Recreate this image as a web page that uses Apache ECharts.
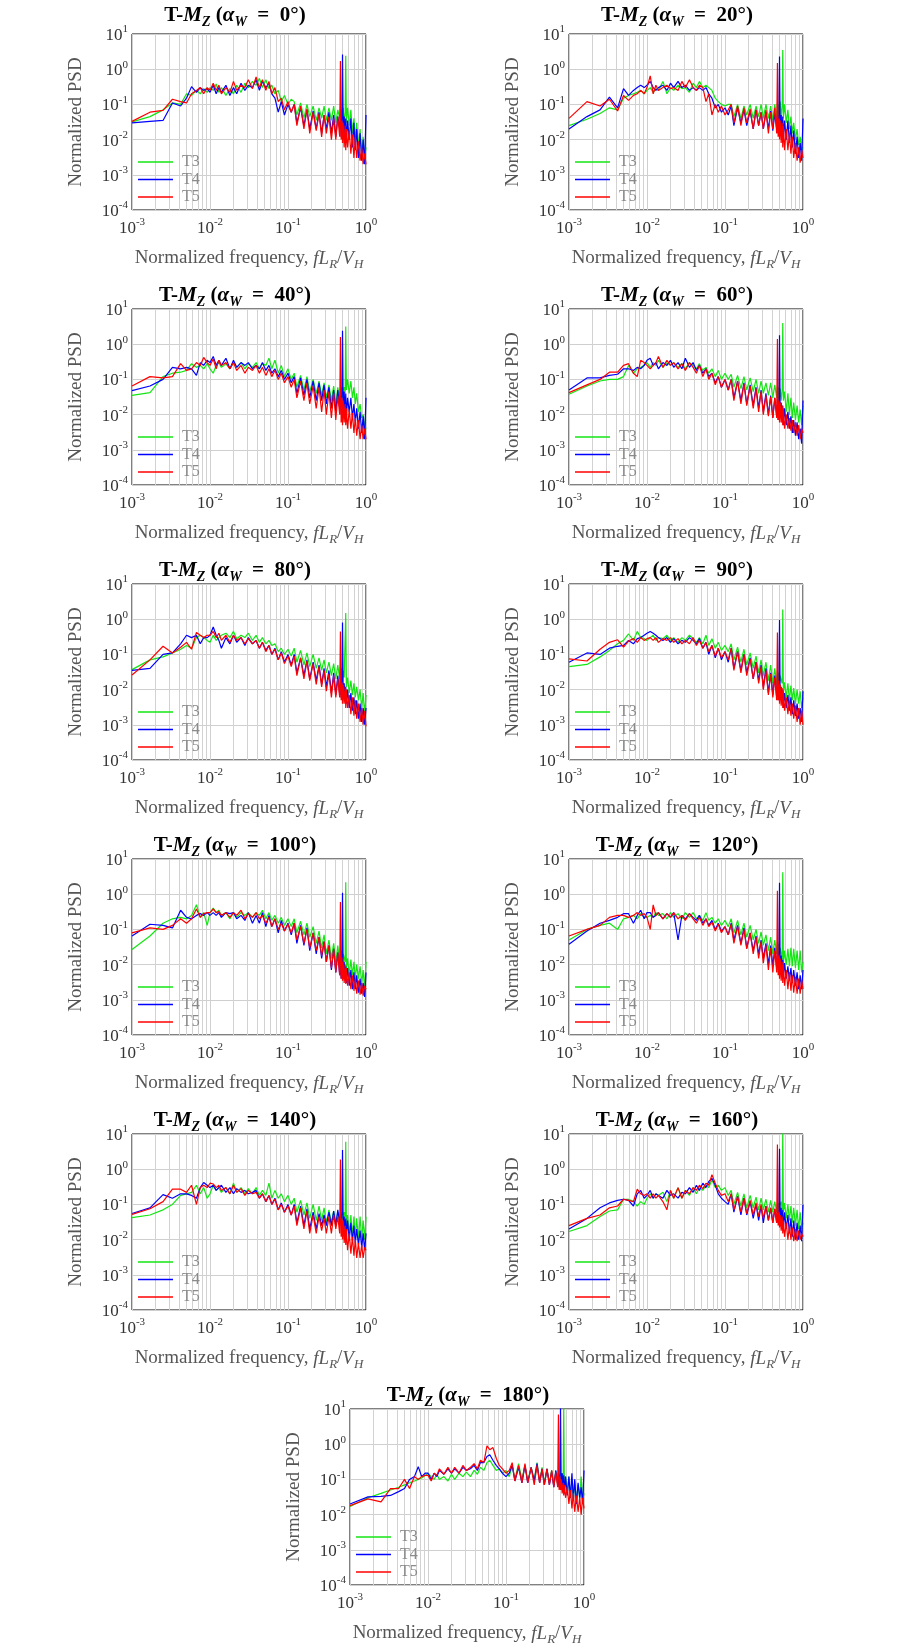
<!DOCTYPE html>
<html><head><meta charset="utf-8">
<script src="https://cdn.jsdelivr.net/npm/echarts@6/dist/echarts.min.js"></script>
<style>html,body{margin:0;padding:0;background:#fff}#c{width:900px;height:1649px}</style>
</head><body><div id="c"></div>
<script>
// ---------------- data ----------------
const FREQ = [0.001,0.0017,0.0025,0.0033,0.0042,0.005,0.0058,0.0067,0.0075,0.0083,0.0092,0.01,
  0.011,0.012,0.013,0.014,0.016,0.018,0.02,0.022,0.025,0.028,0.031,0.035,
  0.039,0.043,0.047,0.052,0.057,0.062,0.068,0.075,0.082,0.09,0.1,0.11,
  0.12,0.13,0.145,0.16,0.175,0.19,0.21,0.23,0.25,0.27,0.29,0.31,
  0.335,0.36,0.385,0.41,0.435,0.46,0.47,0.48,0.49,0.5,0.51,0.525,0.54,0.55,0.56,0.58,
  0.61,0.64,0.67,0.7,0.73,0.76,0.8,0.84,0.88,0.92,0.96,1.0];
const ANGLES = [0,20,40,60,80,90,100,120,140,160,180];
const SERIES_NAMES = ['T3','T4','T5'];
const X_MINOR_GRID = [0.002,0.003,0.004,0.005,0.006,0.007,0.008,0.009,0.02,0.03,0.04,0.05,0.06,0.07,0.08,0.09,0.2,0.3,0.4,0.5,0.6,0.7,0.8,0.9];

const T3_0 = [.032,.045,.07,.11,.1,.2,.18,.25,.2,.28,.22,.3, .25,.38,.22,.3,.18,.28,.2,.35,.22,.4,.3,.45, .35,.55,.3,.5,.28,.35,.2,.25,.12,.18,.1,.14, .12,.05,.11,.04,.1,.045,.09,.035,.08,.04,.09,.035, .08,.035,.09,.03,.07,.04,.085,.03,.07,.04,.08,.03,.06,2.4,.03,.08, .025,.07,.015,.04,.01,.03,.006,.02,.004,.012,.003,.006];
const T4_0 = [.03,.033,.035,.11,.09,.15,.32,.22,.3,.25,.28,.22, .35,.2,.3,.22,.35,.18,.3,.2,.4,.25,.35,.3, .5,.25,.45,.3,.4,.2,.15,.06,.12,.05,.1,.06, .1,.03,.08,.025,.07,.02,.065,.02,.06,.015,.05,.02, .06,.015,.05,.012,.045,.02,.05,.012,.04,2.6,.015,.045,.01,.04,.008,.035, .01,.04,.006,.03,.005,.02,.003,.015,.0025,.01,.002,.05];
const T5_0 = [.033,.06,.068,.14,.12,.11,.2,.25,.3,.2,.3,.25, .4,.25,.35,.2,.3,.22,.45,.25,.35,.3,.5,.28, .6,.3,.5,.25,.45,.2,.3,.12,.15,.07,.12,.06, .1,.025,.09,.02,.075,.015,.06,.018,.055,.012,.05,.015, .045,.01,.04,.01,.045,.012,1.7,.01,.035,.008,.03,.006,.025,.005,.02,.006, .018,.004,.014,.003,.012,.003,.009,.0025,.006,.002,.004,.002];

const T3_20 = [.025,.038,.055,.08,.07,.15,.18,.2,.22,.25,.2,.25, .3,.22,.28,.25,.45,.2,.3,.25,.35,.28,.3,.22, .4,.3,.45,.3,.35,.3,.25,.15,.12,.1,.09,.1, .1,.045,.1,.04,.09,.05,.1,.04,.09,.045,.1,.04, .1,.04,.09,.035,.1,.04,.11,.035,.1,.04,.12,.04,.09,3.5,.04,.1, .03,.07,.02,.045,.015,.03,.01,.02,.007,.012,.005,.006];
const T4_20 = [.02,.045,.07,.16,.08,.28,.18,.25,.3,.35,.3,.35, .45,.3,.25,.3,.35,.25,.4,.3,.45,.3,.35,.25, .3,.25,.3,.25,.3,.2,.15,.08,.1,.06,.08,.05, .09,.025,.08,.03,.07,.025,.065,.02,.07,.025,.06,.02, .06,.02,.065,.018,.055,.02,.05,.015,.05,2.3,.015,.05,.012,.045,.01,.035, .01,.035,.008,.025,.006,.018,.004,.012,.003,.008,.0025,.04];
const T5_20 = [.04,.12,.09,.14,.065,.18,.13,.18,.2,.25,.2,.3, .65,.2,.35,.25,.3,.35,.28,.3,.25,.45,.3,.5, .3,.25,.35,.3,.12,.2,.05,.1,.06,.09,.05,.07, .1,.03,.09,.025,.08,.03,.075,.02,.07,.025,.06,.02, .07,.015,.06,.02,.08,.015,1.5,.012,.04,.01,.035,.008,.03,.006,.025,.005, .02,.005,.015,.004,.012,.003,.008,.0025,.006,.0022,.005,.003];

const T3_40 = [.035,.042,.12,.15,.16,.18,.28,.22,.25,.2,.28,.2, .15,.25,.3,.22,.28,.2,.3,.22,.3,.2,.28,.22, .3,.2,.28,.25,.4,.2,.35,.15,.25,.12,.2,.1, .15,.06,.13,.05,.12,.045,.1,.04,.09,.035,.08,.03, .07,.025,.065,.02,.06,.025,.055,.02,.06,.03,.05,.06,.04,3.2,.05,.1, .04,.09,.03,.06,.02,.04,.012,.02,.008,.01,.005,.004];
const T4_40 = [.048,.065,.1,.22,.2,.22,.2,.13,.3,.25,.35,.3, .45,.25,.35,.25,.4,.2,.35,.22,.3,.25,.3,.2, .25,.2,.3,.18,.25,.15,.2,.12,.18,.1,.15,.08, .12,.04,.11,.035,.1,.03,.09,.025,.08,.025,.07,.02, .06,.015,.05,.012,.05,.015,.045,.01,.04,2.4,.012,.045,.01,.04,.008,.03, .012,.03,.008,.02,.006,.015,.004,.012,.003,.009,.002,.03];
const T5_40 = [.065,.12,.11,.12,.28,.18,.2,.3,.25,.42,.3,.25, .38,.2,.35,.25,.3,.2,.3,.18,.25,.15,.22,.18, .25,.15,.22,.13,.2,.12,.18,.1,.15,.08,.12,.06, .1,.03,.09,.025,.08,.02,.065,.015,.06,.012,.05,.01, .045,.008,.04,.007,.035,.01,1.6,.006,.03,.005,.025,.006,.02,.005,.015,.004, .014,.004,.011,.003,.008,.0025,.007,.002,.005,.002,.004,.002];

const T3_60 = [.038,.065,.09,.1,.1,.12,.25,.15,.2,.22,.25,.3, .22,.3,.25,.35,.22,.3,.25,.3,.22,.28,.2,.3, .25,.2,.28,.18,.22,.15,.2,.12,.18,.1,.15,.1, .14,.06,.13,.055,.12,.05,.11,.045,.1,.04,.09,.04, .08,.035,.08,.03,.07,.03,.065,.025,.06,.03,.055,.025,.05,4,.025,.045, .012,.04,.01,.03,.008,.022,.007,.018,.006,.014,.005,.018];
const T4_60 = [.05,.11,.11,.13,.14,.2,.2,.18,.22,.2,.25,.35, .4,.25,.3,.2,.3,.25,.35,.22,.3,.2,.4,.22, .3,.18,.25,.15,.2,.12,.15,.08,.12,.06,.1,.05, .1,.03,.09,.025,.08,.02,.07,.018,.06,.015,.05,.012, .04,.01,.035,.008,.03,.009,.028,.007,.025,1.8,.008,.022,.006,.018,.005,.015, .005,.012,.004,.009,.003,.007,.0025,.006,.002,.004,.0015,.025];
const T5_60 = [.042,.07,.1,.16,.16,.25,.28,.15,.12,.35,.3,.25, .2,.25,.3,.45,.22,.35,.25,.3,.2,.28,.18,.3, .22,.15,.25,.12,.2,.1,.15,.07,.12,.06,.1,.05, .1,.025,.09,.02,.075,.018,.065,.015,.055,.012,.045,.01, .035,.009,.032,.008,.03,.008,1.4,.007,.025,.006,.022,.006,.018,.005,.015,.004, .01,.004,.008,.0035,.007,.003,.006,.0025,.005,.002,.004,.003];

const T3_80 = [.037,.07,.085,.11,.14,.18,.15,.3,.35,.3,.25,.22, .35,.25,.3,.35,.4,.3,.45,.28,.35,.3,.4,.25, .35,.22,.3,.2,.25,.18,.2,.12,.15,.1,.14,.09, .15,.06,.13,.05,.11,.045,.1,.04,.08,.035,.07,.03, .06,.025,.055,.02,.05,.02,.045,.018,.04,.02,.035,.022,.025,1.5,.012,.022, .008,.018,.007,.015,.006,.012,.005,.01,.003,.008,.002,.007];
const T4_80 = [.035,.04,.1,.11,.2,.35,.3,.35,.2,.3,.3,.35, .6,.35,.25,.15,.3,.2,.35,.22,.3,.18,.3,.2, .25,.15,.22,.13,.18,.1,.15,.07,.12,.06,.1,.05, .1,.03,.08,.025,.07,.02,.06,.018,.05,.014,.04,.012, .035,.008,.03,.007,.025,.007,.022,.006,.018,.8,.006,.015,.005,.012,.004,.01, .003,.008,.0025,.006,.002,.005,.0015,.004,.0012,.003,.001,.003];
const T5_80 = [.026,.07,.17,.11,.16,.22,.14,.42,.35,.3,.35,.35, .45,.3,.4,.25,.35,.22,.35,.25,.3,.2,.28,.2, .25,.15,.22,.12,.18,.1,.14,.07,.11,.055,.09,.045, .09,.025,.08,.02,.065,.018,.055,.014,.045,.012,.035,.009, .028,.006,.025,.006,.02,.006,.45,.005,.016,.004,.014,.004,.012,.003,.01,.003, .007,.002,.006,.0018,.005,.0015,.004,.0012,.003,.001,.0025,.0009];

const T3_90 = [.045,.052,.085,.13,.2,.25,.38,.25,.45,.3,.28,.25, .3,.35,.25,.3,.28,.35,.25,.3,.22,.3,.25,.35, .28,.22,.3,.2,.35,.18,.28,.15,.22,.13,.18,.12, .2,.07,.16,.06,.14,.05,.11,.04,.09,.03,.07,.025, .06,.018,.05,.015,.04,.014,.035,.012,.03,.015,.025,.018,.015,1.9,.008,.016, .006,.015,.005,.013,.005,.011,.004,.01,.004,.009,.003,.006];
const T4_90 = [.06,.11,.1,.15,.17,.18,.25,.2,.28,.3,.35,.4, .45,.4,.35,.3,.25,.3,.22,.28,.2,.25,.22,.3, .25,.2,.28,.15,.22,.1,.18,.08,.15,.07,.12,.06, .15,.04,.12,.035,.1,.03,.08,.02,.06,.018,.05,.012, .04,.008,.03,.007,.025,.006,.02,.005,.016,.95,.005,.012,.004,.01,.003,.008, .003,.007,.0025,.006,.002,.005,.0018,.004,.0015,.003,.0012,.009];
const T5_90 = [.075,.065,.14,.22,.26,.16,.24,.28,.22,.3,.25,.28, .3,.25,.3,.22,.28,.25,.3,.22,.28,.2,.25,.2, .3,.18,.25,.15,.22,.12,.18,.09,.15,.08,.12,.07, .15,.035,.12,.03,.1,.025,.075,.02,.06,.015,.045,.01, .035,.007,.028,.006,.022,.005,.42,.005,.018,.004,.014,.0035,.011,.003,.009,.0025, .006,.002,.005,.0018,.004,.0015,.0035,.0012,.003,.001,.0025,.001];

const T3_100 = [.027,.065,.15,.2,.22,.2,.25,.5,.22,.3,.13,.3, .4,.3,.35,.25,.3,.2,.3,.22,.3,.25,.3,.22, .3,.25,.35,.2,.3,.18,.25,.15,.22,.13,.2,.12, .2,.08,.17,.07,.15,.06,.12,.04,.09,.03,.07,.02, .05,.015,.04,.012,.035,.011,.03,.01,.025,.012,.02,.015,.012,2.2,.007,.015, .005,.014,.005,.012,.004,.01,.004,.009,.003,.007,.002,.012];
const T4_100 = [.065,.14,.13,.11,.35,.22,.2,.25,.28,.25,.3,.25, .3,.25,.3,.22,.3,.28,.3,.2,.25,.18,.3,.15, .25,.15,.3,.12,.25,.12,.2,.08,.18,.09,.15,.07, .15,.04,.13,.035,.11,.025,.08,.02,.06,.015,.045,.012, .035,.007,.028,.006,.022,.005,.018,.004,.014,1.1,.004,.012,.0035,.009,.003,.008, .0025,.007,.002,.006,.002,.005,.0016,.004,.0015,.003,.0012,.006];
const T5_100 = [.08,.11,.1,.13,.2,.15,.2,.38,.22,.28,.3,.3, .38,.3,.32,.25,.3,.22,.3,.25,.35,.2,.28,.22, .3,.2,.25,.15,.22,.12,.2,.1,.15,.09,.14,.08, .15,.05,.12,.04,.1,.03,.08,.025,.06,.018,.045,.012, .035,.008,.028,.006,.022,.005,.6,.004,.016,.0035,.012,.003,.01,.0028,.008,.0025, .006,.002,.005,.0018,.004,.0015,.0035,.0014,.003,.0013,.0025,.002];

const T3_120 = [.05,.1,.13,.15,.1,.2,.22,.25,.2,.28,.22,.22, .25,.22,.3,.25,.28,.2,.3,.22,.28,.2,.3,.22, .3,.2,.25,.18,.3,.18,.22,.15,.2,.13,.18,.12, .2,.08,.18,.07,.15,.06,.13,.05,.1,.04,.085,.035, .07,.025,.06,.02,.05,.02,.045,.017,.04,.018,.03,.02,.014,4.2,.01,.025, .01,.028,.009,.03,.009,.028,.008,.025,.007,.025,.006,.012];
const T4_120 = [.038,.09,.15,.18,.22,.28,.28,.15,.25,.35,.2,.3, .3,.22,.25,.3,.2,.28,.22,.3,.05,.25,.2,.28, .22,.18,.25,.15,.2,.13,.18,.1,.15,.09,.12,.07, .15,.05,.13,.04,.11,.03,.08,.025,.065,.02,.05,.015, .04,.01,.035,.009,.03,.008,.025,.007,.02,2.1,.006,.018,.005,.014,.0045,.011, .004,.009,.0035,.008,.003,.007,.0025,.006,.002,.005,.002,.007];
const T5_120 = [.065,.1,.13,.22,.25,.25,.22,.25,.3,.25,.28,.22, .1,.5,.25,.3,.2,.28,.22,.3,.2,.25,.18,.28, .2,.15,.22,.13,.2,.12,.16,.09,.14,.08,.12,.07, .14,.04,.12,.035,.1,.028,.08,.02,.06,.015,.045,.011, .035,.007,.03,.006,.025,.006,1.25,.005,.018,.004,.015,.0035,.012,.003,.01,.0025, .007,.002,.006,.0018,.005,.0016,.0045,.0015,.004,.0015,.0035,.002];

const T3_140 = [.042,.05,.07,.1,.18,.2,.22,.35,.2,.3,.15,.2, .35,.25,.3,.22,.3,.2,.4,.22,.3,.2,.28,.2, .3,.18,.25,.18,.4,.15,.25,.15,.2,.12,.18,.1, .15,.06,.13,.05,.11,.04,.1,.035,.09,.035,.08,.03, .07,.03,.065,.03,.06,.03,.055,.03,.06,.035,.05,.06,.04,6,.025,.05, .015,.05,.012,.045,.012,.04,.01,.045,.01,.035,.01,.045];
const T4_140 = [.055,.08,.19,.15,.2,.2,.18,.15,.3,.42,.35,.3, .35,.25,.3,.35,.22,.3,.2,.28,.22,.25,.2,.22, .25,.15,.2,.12,.18,.1,.15,.07,.11,.06,.1,.05, .1,.03,.09,.025,.075,.02,.06,.02,.055,.025,.05,.025, .06,.025,.065,.025,.07,.03,.06,.025,.055,3.5,.02,.045,.015,.04,.012,.035, .01,.03,.009,.025,.008,.02,.007,.018,.006,.015,.005,.015];
const T5_140 = [.052,.075,.12,.27,.27,.22,.35,.1,.3,.35,.3,.4, .38,.3,.35,.25,.3,.2,.35,.22,.28,.18,.25,.2, .22,.15,.2,.12,.18,.1,.14,.07,.1,.06,.09,.05, .09,.025,.08,.02,.065,.015,.05,.015,.045,.018,.04,.015, .045,.015,.05,.02,.045,.015,1.9,.012,.04,.01,.035,.008,.025,.007,.02,.005, .015,.004,.012,.0035,.01,.003,.008,.003,.007,.003,.006,.005];

const T3_160 = [.017,.025,.045,.065,.07,.14,.14,.12,.09,.12,.1,.15, .2,.15,.2,.18,.22,.12,.25,.15,.3,.15,.25,.18, .3,.2,.3,.25,.35,.3,.5,.3,.35,.25,.3,.18, .25,.1,.22,.09,.2,.08,.18,.08,.16,.07,.15,.07, .14,.06,.13,.06,.12,.06,.11,.055,.11,.06,.1,.12,.07,12,.06,.11, .04,.1,.035,.09,.03,.08,.025,.07,.02,.06,.02,.03];
const T4_160 = [.02,.04,.08,.11,.13,.14,.13,.09,.2,.25,.15,.18, .25,.15,.2,.18,.15,.25,.18,.2,.15,.22,.2,.3, .22,.35,.25,.4,.3,.45,.55,.35,.2,.15,.12,.1, .2,.06,.17,.05,.15,.05,.12,.04,.1,.035,.09,.03, .09,.035,.08,.03,.075,.03,.07,.03,.065,3.8,.03,.08,.025,.07,.02,.06, .02,.05,.015,.04,.012,.035,.01,.03,.01,.025,.009,.1];
const T5_160 = [.025,.04,.05,.08,.09,.14,.13,.12,.27,.2,.18,.2, .15,.2,.15,.18,.12,.07,.25,.15,.3,.15,.25,.2, .3,.25,.35,.28,.4,.35,.7,.4,.25,.18,.2,.12, .2,.07,.17,.06,.15,.055,.13,.05,.11,.045,.1,.04, .09,.035,.08,.03,.075,.03,5,.025,.06,.022,.05,.018,.045,.015,.035,.012, .03,.01,.025,.01,.022,.009,.02,.009,.018,.01,.015,.012];

const T3_180 = [.017,.03,.04,.05,.06,.07,.08,.09,.1,.11,.13,.15, .12,.1,.14,.1,.12,.09,.14,.1,.15,.12,.16,.12, .18,.14,.22,.18,.3,.35,.25,.18,.2,.15,.18,.12, .25,.1,.28,.1,.25,.09,.22,.1,.3,.09,.22,.08, .2,.08,.18,.07,.17,.07,.15,.06,.14,.08,.1,.15,.06,12,.05,.12, .04,.12,.03,.1,.025,.09,.02,.07,.03,.12,.025,.04];
const T4_180 = [.02,.032,.033,.035,.045,.055,.1,.12,.23,.12,.15,.15, .1,.15,.12,.18,.14,.2,.15,.2,.15,.22,.18,.2, .25,.18,.3,.3,.45,.5,.35,.25,.2,.15,.12,.15, .25,.09,.22,.08,.25,.08,.22,.09,.28,.08,.2,.07, .2,.07,.17,.06,.18,.07,.15,.06,.14,12,.05,.15,.05,.13,.04,.12, .035,.12,.03,.15,.025,.1,.02,.08,.03,.06,.02,.18];
const T5_180 = [.018,.028,.023,.055,.055,.1,.055,.12,.1,.12,.13,.13, .09,.15,.13,.2,.14,.22,.15,.22,.15,.25,.18,.22, .28,.2,.35,.3,.9,.7,.8,.4,.25,.2,.15,.18, .3,.09,.25,.08,.28,.08,.22,.07,.25,.08,.2,.07, .2,.07,.18,.06,.16,.06,7,.05,.12,.05,.1,.04,.08,.035,.07,.03, .06,.02,.05,.015,.04,.012,.035,.012,.03,.01,.03,.015];

const DATA = {
  T3: [T3_0,T3_20,T3_40,T3_60,T3_80,T3_90,T3_100,T3_120,T3_140,T3_160,T3_180],
  T4: [T4_0,T4_20,T4_40,T4_60,T4_80,T4_90,T4_100,T4_120,T4_140,T4_160,T4_180],
  T5: [T5_0,T5_20,T5_40,T5_60,T5_80,T5_90,T5_100,T5_120,T5_140,T5_160,T5_180]
};

// ---------------- layout & style ----------------
const FONT = "'Liberation Serif','Times New Roman',serif";
const COLORS = { T3: '#14e614', T4: '#0000ff', T5: '#ff0000' };
const ROW_TOP = [34, 309, 584, 859, 1134, 1409];
const PLOT_W = 234, PLOT_H = 176;
const PANEL_POS = [[0,132],[0,569],[1,132],[1,569],[2,132],[2,569],[3,132],[3,569],[4,132],[4,569],[5,350]];
const TITLE_CX = { 132: 235, 569: 677, 350: 468 };

function powLabel(v) {
  const e = Math.round(Math.log10(v));
  return '{b|10}{s|' + (e < 0 ? '-' : '') + Math.abs(e) + '}';
}
const tickRich = {
  b: { fontFamily: FONT, fontSize: 17, color: '#333', verticalAlign: 'bottom', lineHeight: 20 },
  s: { fontFamily: FONT, fontSize: 11, color: '#333', verticalAlign: 'top', lineHeight: 20 }
};
const titleRich = {
  b: { fontFamily: FONT, fontSize: 21, fontWeight: 'bold', color: '#000', verticalAlign: 'top', lineHeight: 24 },
  bi: { fontFamily: FONT, fontSize: 21, fontWeight: 'bold', fontStyle: 'italic', color: '#000', verticalAlign: 'top', lineHeight: 24 },
  sub: { fontFamily: FONT, fontSize: 14, fontWeight: 'bold', fontStyle: 'italic', color: '#000', verticalAlign: 'bottom', lineHeight: 24 }
};
const xNameRich = {
  n: { fontFamily: FONT, fontSize: 19, color: '#555', verticalAlign: 'top', lineHeight: 22 },
  i: { fontFamily: FONT, fontSize: 19, fontStyle: 'italic', color: '#555', verticalAlign: 'top', lineHeight: 22 },
  is: { fontFamily: FONT, fontSize: 13, fontStyle: 'italic', color: '#555', verticalAlign: 'bottom', lineHeight: 22 }
};

const grid = [], xAxis = [], yAxis = [], series = [], title = [], legend = [];
ANGLES.forEach((ang, i) => {
  const [row, left] = PANEL_POS[i];
  const top = ROW_TOP[row];
  grid.push({ left: left, top: top, width: PLOT_W, height: PLOT_H, show: true,
    borderColor: '#000', borderWidth: 1, backgroundColor: 'transparent', containLabel: false });
  xAxis.push({
    type: 'log', logBase: 10, gridIndex: i, min: 0.001, max: 1,
    name: '{n|Normalized frequency, }{i|fL}{is|R}{n|/}{i|V}{is|H}',
    nameLocation: 'middle', nameGap: 39,
    nameTextStyle: { rich: xNameRich },
    axisLine: { show: false }, axisTick: { show: false },
    axisLabel: { formatter: powLabel, rich: tickRich, margin: 7 },
    splitLine: { show: true, lineStyle: { color: '#cfcfcf', width: 1 } }
  });
  yAxis.push({
    type: 'log', logBase: 10, gridIndex: i, min: 0.0001, max: 10,
    name: 'Normalized PSD', nameLocation: 'middle', nameGap: 46,
    nameTextStyle: { fontFamily: FONT, fontSize: 19, color: '#555' },
    axisLine: { show: false }, axisTick: { show: false },
    axisLabel: { formatter: powLabel, rich: tickRich, margin: 4 },
    splitLine: { show: true, lineStyle: { color: '#cfcfcf', width: 1 } }
  });
  title.push({
    text: '{b|T-}{bi|M}{sub|Z}{b| (}{bi|α}{sub|W}{b|  =  ' + ang + '°)}',
    left: TITLE_CX[left], top: row === 0 ? 17.5 : top - 12,
    textAlign: 'center', textVerticalAlign: 'middle', padding: 0,
    textStyle: { rich: titleRich }
  });
  legend.push({
    data: SERIES_NAMES, orient: 'vertical', left: left + 6, top: top + 120,
    icon: 'rect', itemWidth: 35, itemHeight: 1.6, itemGap: 1.5, padding: 0, selectedMode: false,
    textStyle: { fontFamily: FONT, fontSize: 16, color: '#8a8a8a', padding: [0, 0, 0, 4] }
  });
  SERIES_NAMES.forEach((nm, k) => {
    const s = {
      type: 'line', name: nm, xAxisIndex: i, yAxisIndex: i,
      data: FREQ.map((f, j) => [f, DATA[nm][i][j]]),
      showSymbol: false, symbol: 'none', silent: true, z: 2 + k,
      lineStyle: { width: 1.2, color: COLORS[nm] }, itemStyle: { color: COLORS[nm] }
    };
    if (k === 0) {
      s.markLine = {
        silent: true, z: 1, precision: 10, symbol: ['none', 'none'], label: { show: false },
        lineStyle: { color: '#d2d2d2', width: 1, type: 'solid' },
        emphasis: { disabled: true },
        data: X_MINOR_GRID.map(v => ({ xAxis: v }))
      };
    }
    series.push(s);
  });
});

const chart = echarts.init(document.getElementById('c'), null, { renderer: 'canvas' });
chart.setOption({ animation: false, backgroundColor: '#fff', grid, xAxis, yAxis, series, title, legend });
</script>
</body></html>
